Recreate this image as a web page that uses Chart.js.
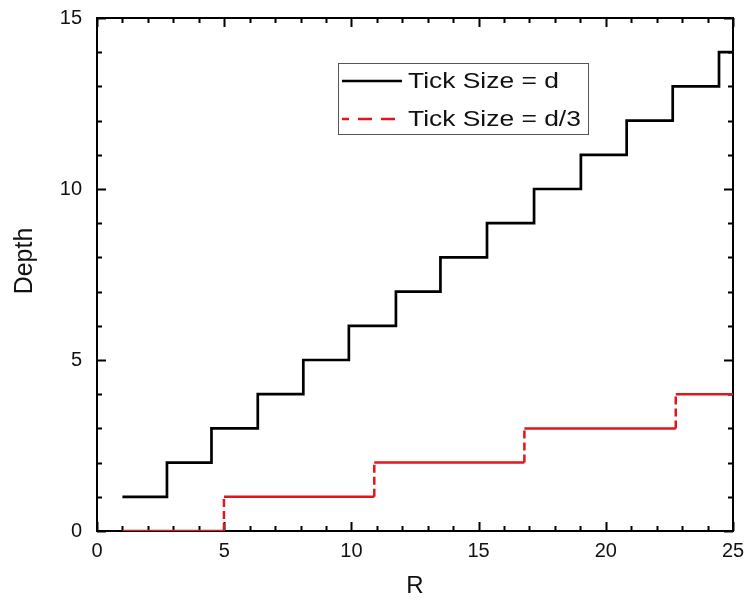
<!DOCTYPE html>
<html>
<head>
<meta charset="utf-8">
<script src="https://cdn.jsdelivr.net/npm/chart.js@4.4.0/dist/chart.umd.min.js"></script>
<style>
  html, body { margin: 0; padding: 0; background: #fff; }
  canvas { display: block; }
</style>
</head>
<body>
<canvas id="myChart" width="747" height="605"></canvas>
<script>
// step positions (R where depth changes) and depth levels
const blackR = [1, 2.75, 4.5, 6.32, 8.11, 9.9, 11.75, 13.5, 15.33, 17.18, 19.02, 20.82, 22.63, 24.45, 25];
const blackDepth = [1, 2, 3, 4, 5, 6, 7, 8, 9, 10, 11, 12, 13, 14, 14];
const redR = [1, 4.99, 10.9, 16.8, 22.75, 25];
const redDepth = [0, 1, 2, 3, 4, 4];
const xTicks = [0, 5, 10, 15, 20, 25];
const yTicks = [0, 5, 10, 15];
const labels = ['Tick Size = d', 'Tick Size = d/3'];

const FONT = '"Liberation Sans", Arial, sans-serif';

// corner points of a step line so vertical parts can be styled on their own
function corners(xs, ys){
  const pts = [];
  for (let i = 0; i < xs.length; i++) {
    pts.push({x: xs[i], y: ys[i]});
    if (i < xs.length - 1) pts.push({x: xs[i+1], y: ys[i]});
  }
  return pts;
}

const frame = {
  id: 'frame',
  beforeDatasetsDraw(chart){
    const {ctx, chartArea: a, scales: {x, y}} = chart;
    ctx.save();
    ctx.strokeStyle = '#000';
    ctx.lineWidth = 2;
    ctx.strokeRect(a.left, a.top, a.right - a.left, a.bottom - a.top);
    ctx.beginPath();
    for (let v = 0; v <= 25; v++) {
      const px = Math.round(x.getPixelForValue(v)) + 0.5;
      const len = v % 5 === 0 ? 9 : 5;
      ctx.moveTo(px, a.bottom); ctx.lineTo(px, a.bottom - len);
      ctx.moveTo(px, a.top); ctx.lineTo(px, a.top + len);
    }
    for (let v = 0; v <= 15; v++) {
      const py = Math.round(y.getPixelForValue(v)) + 0.5;
      const len = v % 5 === 0 ? 9 : 5;
      ctx.moveTo(a.left, py); ctx.lineTo(a.left + len, py);
      ctx.moveTo(a.right, py); ctx.lineTo(a.right - len, py);
    }
    ctx.stroke();

    // y title, sits a bit above the middle like the original
    ctx.translate(25, 261);
    ctx.rotate(-Math.PI / 2);
    ctx.font = '25px ' + FONT;
    ctx.fillStyle = '#111';
    ctx.textAlign = 'center';
    ctx.textBaseline = 'middle';
    ctx.fillText('Depth', 0, 0);
    ctx.restore();
  },
  afterDatasetsDraw(chart){
    const {ctx} = chart;
    ctx.save();
    // legend box
    const bx = 338, by = 63, bw = 250, bh = 71;
    ctx.fillStyle = '#fff';
    ctx.fillRect(bx, by, bw, bh);
    ctx.strokeStyle = '#555';
    ctx.lineWidth = 1;
    ctx.strokeRect(bx + 0.5, by + 0.5, bw, bh);
    const rows = [
      {y: 81, color: '#000', dash: []},
      {y: 119, color: '#e3141b', dash: [14, 9]}
    ];
    ctx.font = '22px ' + FONT;
    ctx.textBaseline = 'middle';
    rows.forEach((r, i) => {
      ctx.strokeStyle = r.color;
      ctx.lineWidth = 2.5;
      ctx.setLineDash(r.dash);
      ctx.lineDashOffset = r.dash.length ? 7 : 0;
      ctx.beginPath();
      ctx.moveTo(342, r.y); ctx.lineTo(402, r.y);
      ctx.stroke();
      ctx.setLineDash([]);
      ctx.fillStyle = '#111';
      // the original legend text is drawn wide
      ctx.save();
      ctx.translate(408, r.y + 1);
      ctx.scale(1.2, 1);
      ctx.fillText(labels[i], 0, 0);
      ctx.restore();
    });
    ctx.restore();
  }
};

new Chart(document.getElementById('myChart'), {
  type: 'line',
  data: {
    datasets: [
      {
        label: labels[0],
        data: blackR.map((r, i) => ({x: r, y: blackDepth[i]})),
        stepped: 'before',
        borderColor: '#000',
        borderWidth: 2.7,
        pointRadius: 0,
        fill: false
      },
      {
        label: labels[1],
        data: corners(redR, redDepth),
        borderColor: '#e3141b',
        borderWidth: 2.5,
        pointRadius: 0,
        fill: false,
        segment: {
          borderDash: c => c.p0.parsed.x === c.p1.parsed.x ? [8, 4] : undefined
        }
      }
    ]
  },
  options: {
    responsive: false,
    animation: false,
    layout: { padding: { left: 0, right: 14, top: 18, bottom: 0 } },
    plugins: { legend: { display: false }, tooltip: { enabled: false } },
    scales: {
      x: {
        type: 'linear', min: 0, max: 25,
        afterBuildTicks: s => { s.ticks = xTicks.map(v => ({value: v})); },
        afterFit: s => { s.height = 74; s.paddingLeft = 0; s.paddingRight = 0; },
        grid: { display: false, drawTicks: false },
        border: { display: false },
        ticks: { color: '#111', padding: 8, font: { family: FONT, size: 20 } },
        title: { display: true, text: 'R', color: '#111', padding: { top: 16 }, font: { family: FONT, size: 24 } }
      },
      y: {
        type: 'linear', min: 0, max: 15,
        afterBuildTicks: s => { s.ticks = yTicks.map(v => ({value: v})); },
        afterFit: s => { s.width = 97; s.paddingTop = 0; s.paddingBottom = 0; },
        grid: { display: false, drawTicks: false },
        border: { display: false },
        ticks: { color: '#111', padding: 15, font: { family: FONT, size: 20 } }
      }
    }
  },
  plugins: [frame]
});
</script>
</body>
</html>
